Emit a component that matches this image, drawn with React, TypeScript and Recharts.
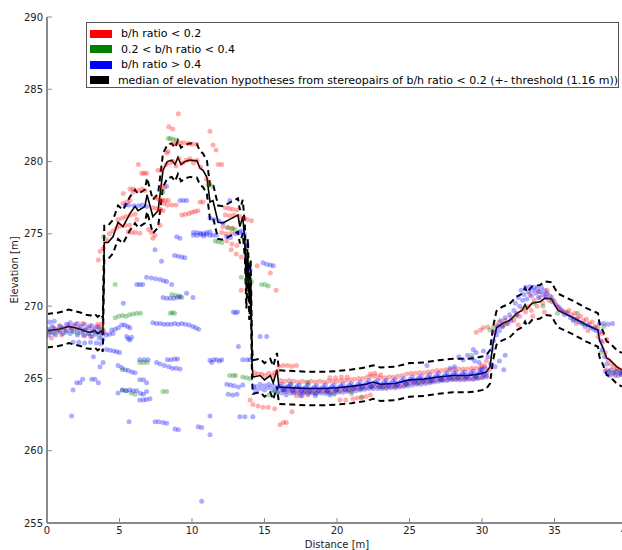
import {
  ComposedChart,
  Scatter,
  Line,
  XAxis,
  YAxis,
} from "recharts";

type Pt = [number, number];

// median of elevation hypotheses (b/h < 0.2)
const medianPts: Pt[] = [
  [0, 268.3], [0.4, 268.35], [0.8, 268.4], [1.2, 268.5], [1.5, 268.6], [1.9, 268.5],
  [2.3, 268.4], [2.7, 268.25], [3.0, 268.2], [3.3, 268.3], [3.5, 268.1], [3.75, 268.3],
  [3.85, 268.0], [3.95, 274.4], [4.2, 274.4], [4.55, 274.8], [4.9, 275.8], [5.24, 275.5],
  [5.72, 276.4], [6.07, 276.9], [6.28, 276.6], [6.75, 276.9], [6.9, 277.7], [7.3, 276.2],
  [7.66, 276.6], [8.0, 279.4], [8.3, 280.0], [8.6, 280.1], [8.83, 279.8], [9.03, 280.3],
  [9.24, 279.8], [9.52, 280.0], [9.86, 280.1], [10.34, 280.05], [10.55, 279.55],
  [10.76, 279.4], [11.03, 278.9], [11.24, 277.2], [11.45, 277.3], [11.8, 275.8],
  [12.14, 275.75], [12.6, 276.0], [13.17, 276.3], [13.3, 275.5], [13.5, 276.2],
  [13.65, 274.4], [13.75, 271.0], [13.85, 273.5], [13.95, 270.2], [14.05, 272.0],
  [14.14, 266.1], [14.2, 265.1], [14.7, 265.2], [15.0, 264.9], [15.4, 265.2], [15.6, 264.7],
  [15.86, 265.6], [16.0, 264.4], [17, 264.35], [18, 264.3], [19, 264.3], [20, 264.35],
  [21, 264.45], [22, 264.6], [22.5, 264.75], [23, 264.6], [24, 264.65], [25, 264.9],
  [26, 264.95], [27, 265.1], [28, 265.2], [29, 265.2], [29.5, 265.25], [30, 265.35],
  [30.3, 265.45], [30.55, 265.8], [30.76, 267.4], [31.0, 268.5], [31.4, 268.8],
  [31.9, 269.0], [32.4, 269.5], [32.76, 269.7], [32.97, 270.1], [33.1, 269.8],
  [33.45, 270.2], [34.0, 270.3], [34.35, 270.55], [34.8, 270.5], [35.0, 270.1],
  [35.25, 269.7], [36.3, 269.2], [37.2, 268.7], [38.0, 268.35], [38.1, 267.65],
  [38.35, 267.1], [38.6, 266.4], [38.8, 266.3], [39.3, 265.8], [39.65, 265.6],
];

const THRESHOLD = 1.16;

const redPts: Pt[] = [
  [0.2, 268.2], [0.45, 268.5], [0.7, 268.3], [0.95, 268.6], [1.2, 268.4], [1.45, 268.7],
  [1.7, 268.45], [1.95, 268.75], [2.2, 268.5], [2.45, 268.8], [2.7, 268.4], [2.95, 268.65],
  [3.2, 268.3], [3.45, 268.6], [3.7, 268.4], [3.8, 268.8], [3.5, 268.75], [3.0, 267.9],
  [2.5, 268.0], [1.0, 268.0], [0.3, 267.8], [3.95, 268.2],
  [3.66, 273.8], [3.54, 273.2], [3.9, 274.0], [4.1, 274.6], [4.3, 275.0], [4.55, 275.2],
  [4.8, 275.4], [5.05, 275.55], [5.4, 275.6], [5.7, 275.6],
  [4.9, 276.0], [5.2, 276.1], [5.45, 276.2], [5.75, 276.3], [6.07, 276.35],
  [5.24, 277.1], [5.5, 277.2], [5.72, 277.3], [5.26, 277.8], [5.72, 278.1], [5.95, 278.1],
  [5.94, 277.9], [6.3, 278.0], [6.55, 278.1], [6.76, 278.0],
  [5.6, 275.15], [5.85, 275.1], [6.1, 275.1], [6.4, 275.05], [6.2, 276.0],
  [7.45, 277.5], [7.7, 277.4], [7.95, 277.35], [8.15, 277.3], [8.37, 277.3],
  [7.3, 276.8], [7.55, 276.75], [7.8, 276.7], [7.0, 275.3], [7.2, 275.1], [7.45, 274.9],
  [7.3, 274.7], [7.66, 279.4], [7.9, 279.4], [8.25, 280.6], [8.35, 280.7], [7.9, 278.3],
  [8.1, 278.2], [6.3, 279.8], [6.53, 279.2], [6.7, 279.2], [6.87, 279.2],
  [9.06, 283.3], [8.4, 282.4], [8.67, 282.25], [11.24, 282.1], [11.45, 281.15], [11.66, 280.8],
  [8.7, 281.2], [8.95, 281.25], [9.2, 281.3], [9.45, 281.3], [9.75, 281.25], [10.0, 281.2],
  [10.3, 281.2], [8.2, 279.8], [8.45, 279.9], [8.7, 280.0], [8.9, 279.7], [9.1, 280.2],
  [9.35, 279.9], [9.6, 280.1], [9.85, 280.2], [10.1, 279.9], [10.35, 280.1], [10.6, 279.6],
  [7.8, 277.3], [8.05, 277.1], [8.3, 277.0], [8.6, 277.0], [8.9, 277.0], [7.8, 276.65],
  [8.0, 276.6], [9.3, 276.3], [9.55, 276.35], [9.8, 276.4], [10.0, 276.5], [10.2, 276.55],
  [10.4, 276.6], [10.55, 277.2], [10.76, 277.2], [7.8, 275.6], [11.8, 279.8], [12.05, 279.8],
  [11.0, 278.8], [11.2, 278.5],
  [12.3, 276.8], [12.55, 276.75], [12.8, 276.7], [13.1, 276.65], [12.3, 276.3], [12.6, 276.25],
  [12.9, 276.3], [13.3, 276.2], [13.6, 276.1], [13.8, 276.0], [14.1, 275.9], [12.14, 275.5],
  [12.45, 275.45], [12.8, 275.4], [12.05, 275.1], [12.35, 275.0], [12.7, 275.05],
  [12.4, 274.5], [12.75, 274.3], [13.1, 274.2], [12.7, 273.9], [13.05, 273.6], [13.4, 273.4],
  [13.4, 271.1], [14.5, 272.8], [15.4, 272.3], [15.8, 271.1],
  [14.3, 265.4], [14.55, 265.3], [14.8, 265.3], [15.05, 265.2], [15.3, 265.35], [15.55, 265.2],
  [15.7, 265.4], [15.9, 265.5], [14.2, 263.2], [14.55, 263.1], [14.9, 263.0], [15.25, 263.0],
  [15.7, 262.9], [16.07, 261.8], [16.3, 261.95], [16.5, 261.95], [16.9, 262.7], [14.0, 263.5],
  [16.0, 265.85], [16.3, 265.9], [16.6, 265.9], [16.9, 265.85], [17.2, 265.9],
  [16.1, 264.85], [16.25, 264.2], [16.4, 264.8], [16.55, 264.2], [16.7, 264.85], [16.85, 264.15],
  [17.0, 264.8], [17.15, 264.15], [17.3, 264.75], [17.45, 264.1], [17.6, 264.8], [17.75, 264.1],
  [17.9, 264.75], [18.05, 264.1], [18.2, 264.8], [18.35, 264.1], [18.5, 264.75], [18.65, 264.1],
  [18.8, 264.8], [18.95, 264.1], [19.1, 264.75], [19.25, 264.1], [19.4, 264.8], [19.55, 264.1],
  [19.7, 264.8], [19.85, 264.15], [20.0, 264.8], [20.15, 264.15], [20.3, 264.85], [20.45, 264.2],
  [20.6, 264.85], [20.75, 264.2], [20.9, 264.9], [21.05, 264.25], [21.2, 264.95], [21.35, 264.3],
  [21.5, 265.0], [21.65, 264.3], [21.8, 265.0], [21.95, 264.35], [22.1, 265.1], [22.25, 264.4],
  [22.4, 265.15], [22.55, 264.5], [22.7, 265.15], [22.85, 264.45], [23.0, 265.05], [23.15, 264.4],
  [23.3, 265.05], [23.45, 264.4], [23.6, 265.1], [23.75, 264.45], [23.9, 265.1], [24.05, 264.45],
  [24.2, 265.15], [24.35, 264.5], [24.5, 265.2], [24.65, 264.55], [24.8, 265.3], [24.95, 264.65],
  [25.1, 265.35], [25.25, 264.7], [25.4, 265.35], [25.55, 264.7], [25.7, 265.4], [25.85, 264.75],
  [26.0, 265.4], [26.15, 264.75], [26.3, 265.45], [26.45, 264.8], [26.6, 265.5], [26.75, 264.85],
  [26.9, 265.55], [27.05, 264.9], [27.2, 265.55], [27.35, 264.9], [27.5, 265.6], [27.65, 264.95],
  [27.8, 265.6], [27.95, 265.0], [28.1, 265.65], [28.25, 265.0], [28.4, 265.65], [28.55, 265.0],
  [28.7, 265.65], [28.85, 265.0], [29.0, 265.65], [29.15, 265.0], [29.3, 265.7], [29.45, 265.0],
  [29.6, 265.7], [29.75, 265.05], [29.9, 265.75], [30.05, 265.1], [30.2, 265.85], [30.35, 265.2],
  [19.5, 265.05], [19.9, 265.05], [20.3, 265.1], [20.7, 265.1], [22.3, 265.3], [22.6, 265.35],
  [23.0, 265.25], [21.1, 263.6], [21.4, 263.65], [21.7, 263.7], [22.0, 263.75], [22.3, 263.85],
  [20.2, 263.5], [20.6, 263.5], [17.2, 263.8], [17.6, 263.8], [18.0, 263.85],
  [29.6, 268.2], [29.9, 268.35], [30.1, 268.5], [30.4, 268.55], [30.0, 265.9], [30.3, 266.2],
  [30.5, 265.6], [30.8, 268.2], [31.0, 268.7], [31.2, 268.9], [31.4, 268.6], [31.6, 269.0],
  [31.8, 268.8], [32.0, 269.2], [32.2, 269.0], [32.4, 269.5], [32.6, 269.3], [32.8, 269.8],
  [33.0, 269.6], [33.2, 270.0], [33.4, 269.7], [33.6, 270.4], [33.8, 270.0], [34.0, 270.6],
  [34.2, 270.2], [34.4, 270.8], [34.6, 270.4], [34.8, 270.6], [35.0, 270.3], [35.2, 270.0],
  [35.4, 269.8], [35.6, 269.6], [33.3, 270.8], [33.9, 271.0], [34.5, 271.1], [32.5, 268.7],
  [33.5, 269.3], [34.3, 269.6],
  [35.8, 269.6], [36.0, 269.7], [36.2, 269.4], [36.4, 269.5], [36.6, 269.2], [36.8, 269.3],
  [37.0, 269.0], [37.2, 269.1], [37.4, 268.8], [37.6, 268.9], [37.8, 268.6], [38.0, 268.5],
  [36.5, 268.8], [37.3, 268.3], [38.0, 267.9], [38.3, 267.5], [38.5, 266.8], [38.7, 266.3],
  [38.9, 266.0], [39.1, 265.8], [39.3, 265.7], [39.5, 265.6], [39.7, 265.5], [38.6, 265.6],
  [39.0, 265.3], [39.4, 265.2], [38.3, 268.1], [38.6, 267.7],
];

const greenPts: Pt[] = [
  [0.15, 268.3], [0.5, 268.1], [0.9, 268.35], [1.3, 268.2], [1.7, 268.3], [2.1, 268.15],
  [2.5, 268.3], [2.9, 268.1], [3.3, 268.2], [3.7, 268.0], [3.85, 268.4], [3.9, 274.8],
  [4.7, 271.5], [4.7, 269.2], [4.95, 269.3], [5.2, 269.35], [5.45, 269.3], [5.7, 269.4],
  [5.95, 269.45], [6.2, 269.5], [6.45, 269.5], [5.2, 265.6], [6.4, 266.1], [6.65, 266.1],
  [6.9, 266.1], [5.2, 264.2], [5.45, 264.15], [5.8, 264.0], [6.07, 263.9], [8.0, 264.1],
  [8.25, 264.1], [8.6, 270.8], [8.85, 270.75], [9.1, 270.7], [9.3, 270.6], [8.5, 269.5],
  [8.65, 269.55], [8.8, 269.5], [8.5, 281.6], [8.7, 281.55], [8.9, 281.5], [8.37, 281.6],
  [8.0, 277.9], [11.1, 278.4], [11.36, 278.3], [12.5, 275.4], [12.75, 275.35], [12.97, 275.3],
  [11.6, 274.5], [11.8, 274.45], [12.05, 274.4], [13.4, 272.0], [13.75, 271.8], [14.1, 271.7],
  [14.8, 271.5], [15.05, 271.5], [15.26, 271.4], [12.6, 265.2], [12.85, 265.2], [13.0, 265.2],
  [13.5, 265.1], [13.75, 265.05], [14.0, 265.0], [15.7, 264.1], [15.9, 264.0], [15.3, 263.85],
  [16.3, 264.2], [17.0, 264.0], [17.8, 264.1], [18.5, 264.0], [19.3, 264.1], [20.0, 264.2],
  [20.8, 264.2], [21.6, 264.3], [22.4, 264.4], [23.2, 264.4], [24.0, 264.5], [24.8, 264.6],
  [25.6, 264.7], [26.4, 264.8], [27.2, 264.9], [28.0, 265.0], [28.8, 265.1], [29.6, 265.1],
  [16.8, 264.6], [18.0, 264.7], [19.8, 263.9], [21.0, 263.95], [21.7, 263.7],
  [29.3, 266.6], [30.55, 268.35], [30.8, 268.5], [31.5, 268.7], [32.3, 269.3], [33.0, 269.9],
  [33.6, 270.2], [34.2, 270.0], [34.8, 270.3], [35.6, 269.6], [36.3, 269.1], [37.0, 268.8],
  [37.8, 268.5], [38.4, 268.6], [38.2, 266.8], [38.8, 265.5], [39.2, 265.5], [39.6, 265.4],
  [36.6, 269.5], [35.2, 269.5],
];

const bluePts: Pt[] = [
  [0.1, 268.0], [0.1, 268.4], [0.35, 268.2], [0.35, 268.6], [0.6, 268.0], [0.6, 268.4],
  [0.85, 268.25], [0.85, 268.65], [1.1, 268.1], [1.1, 268.5], [1.35, 268.3], [1.35, 268.75],
  [1.6, 268.1], [1.6, 268.5], [1.6, 268.85], [1.85, 268.25], [1.85, 268.65], [2.1, 268.0],
  [2.1, 268.4], [2.1, 268.8], [2.35, 268.2], [2.35, 268.6], [2.6, 267.95], [2.6, 268.35],
  [2.6, 268.75], [2.85, 268.1], [2.85, 268.5], [3.1, 267.9], [3.1, 268.3], [3.1, 268.65],
  [3.35, 268.05], [3.35, 268.45], [3.6, 267.8], [3.6, 268.2], [3.6, 268.55], [3.85, 267.7],
  [3.85, 268.1], [0.2, 268.9], [0.5, 268.95],
  [1.8, 267.5], [2.2, 267.5], [2.6, 267.45], [3.0, 267.5], [3.4, 267.45], [3.7, 267.4],
  [3.2, 266.5], [3.65, 265.8], [3.87, 266.1], [1.8, 264.2], [2.05, 264.7], [2.28, 264.7],
  [2.46, 264.95], [3.08, 264.95], [3.31, 264.95], [3.54, 264.7], [1.7, 262.4],
  [4.1, 268.0], [4.3, 268.05], [4.55, 268.1], [4.46, 268.35], [4.7, 268.4], [4.92, 268.5],
  [5.15, 268.7], [5.35, 268.7], [5.55, 268.6], [5.72, 268.5], [5.26, 270.2],
  [4.1, 267.0], [4.35, 266.95], [4.6, 266.9], [4.8, 266.85], [5.0, 266.8],
  [5.5, 267.9], [5.6, 267.75], [5.72, 267.65], [5.84, 267.85],
  [4.9, 265.9], [5.15, 265.75], [5.4, 265.6], [5.6, 265.55], [5.85, 265.45], [6.07, 265.4],
  [6.4, 266.3], [6.7, 266.3], [6.97, 266.3], [7.56, 266.1], [7.8, 266.0], [8.1, 265.9],
  [8.4, 265.8], [8.65, 265.7], [8.9, 265.7], [9.17, 265.65], [8.3, 266.3], [8.55, 266.3],
  [8.8, 266.35], [9.0, 266.35], [6.4, 264.9], [6.65, 264.9], [6.87, 264.7],
  [4.9, 264.0], [5.2, 264.2], [5.45, 264.15], [5.7, 264.2], [5.95, 264.15], [6.2, 264.15],
  [6.45, 263.95], [6.65, 263.9], [6.87, 264.1], [6.4, 263.5], [6.65, 263.5], [6.85, 263.55],
  [7.1, 263.6], [5.66, 262.0], [7.45, 262.0], [7.7, 262.0], [8.0, 261.95], [8.25, 261.9],
  [8.83, 261.5], [9.06, 261.45], [10.43, 261.65], [10.67, 261.6], [10.67, 256.5], [11.24, 262.4],
  [6.2, 271.5], [6.4, 271.5], [6.6, 271.5], [6.87, 272.0], [7.2, 271.95], [7.5, 271.9],
  [7.8, 271.85], [8.05, 271.75], [8.25, 271.7], [8.6, 271.5],
  [7.3, 268.85], [7.55, 268.8], [7.8, 268.8], [8.05, 268.75], [8.3, 268.75], [8.55, 268.75],
  [8.8, 268.8], [9.05, 268.75], [9.3, 268.8], [9.55, 268.75], [9.8, 268.7], [10.05, 268.6],
  [10.25, 268.5], [10.45, 268.4],
  [8.0, 270.6], [8.25, 270.55], [8.5, 270.55], [8.75, 270.55], [9.0, 270.6], [9.2, 270.65],
  [9.63, 270.9], [10.07, 270.6],
  [12.85, 269.6], [13.0, 269.55], [13.15, 269.6], [13.2, 267.2], [13.5, 266.3], [13.8, 266.3],
  [14.0, 266.3], [12.4, 264.6], [12.65, 264.55], [12.9, 264.5], [13.2, 264.4], [13.5, 264.55],
  [12.5, 263.9], [12.8, 263.85], [13.1, 263.9], [13.3, 262.35], [13.65, 262.35], [14.2, 262.35],
  [11.24, 266.25], [11.5, 266.3], [11.7, 266.3], [11.9, 266.2], [11.36, 266.1], [12.05, 266.3],
  [11.24, 261.1],
  [9.17, 277.3], [9.4, 277.3], [9.63, 277.3], [8.94, 274.8], [9.17, 274.7],
  [10.1, 275.1], [10.35, 275.1], [10.6, 275.05], [10.8, 275.0], [11.0, 275.1], [11.24, 275.15],
  [10.1, 274.9], [10.35, 274.9], [10.6, 274.95], [10.8, 274.85], [11.0, 274.95], [11.24, 274.9],
  [11.45, 274.9], [11.7, 274.9], [8.8, 273.5], [9.05, 273.45], [9.3, 273.4], [9.5, 273.35],
  [12.6, 277.3], [11.24, 276.1], [11.5, 276.0], [11.85, 275.9], [12.14, 275.75],
  [12.4, 274.8], [12.65, 274.75], [13.0, 275.0], [13.3, 275.1], [14.9, 273.0], [15.15, 272.9],
  [15.4, 272.85], [15.6, 272.8], [14.7, 267.9], [15.15, 267.9],
  [5.4, 277.0], [5.65, 277.0], [6.0, 276.95], [6.3, 276.95], [6.55, 277.0], [6.87, 276.9],
  [7.45, 273.9], [7.9, 273.1], [8.25, 278.3], [13.4, 275.2], [13.6, 275.0], [13.8, 274.2],
  [14.0, 272.5],
  [14.25, 264.4], [14.4, 264.15], [14.4, 264.45], [14.7, 264.3], [14.7, 264.6], [15.0, 264.2],
  [15.0, 264.5], [15.3, 264.35], [15.3, 264.6], [15.6, 264.2], [15.6, 264.5], [15.9, 264.1],
  [15.9, 264.4], [16.2, 264.0], [16.2, 264.3], [16.2, 264.6], [16.5, 264.1], [16.5, 264.4],
  [16.8, 264.0], [16.8, 264.3], [16.8, 264.6], [17.1, 264.05], [17.1, 264.35], [17.4, 264.0],
  [17.4, 264.3], [17.4, 264.55], [17.7, 264.0], [17.7, 264.3], [18.0, 263.95], [18.0, 264.25],
  [18.0, 264.55], [18.3, 264.0], [18.3, 264.3], [18.6, 263.95], [18.6, 264.25], [18.6, 264.5],
  [18.9, 264.0], [18.9, 264.3], [19.2, 263.95], [19.2, 264.25], [19.2, 264.55], [19.5, 264.0],
  [19.5, 264.3], [19.8, 264.0], [19.8, 264.3], [19.8, 264.55], [20.1, 264.05], [20.1, 264.35],
  [20.4, 264.05], [20.4, 264.35], [20.4, 264.6], [20.7, 264.1], [20.7, 264.4], [21.0, 264.1],
  [21.0, 264.4], [21.0, 264.65], [21.3, 264.15], [21.3, 264.45], [21.6, 264.2], [21.6, 264.5],
  [21.6, 264.75], [21.9, 264.25], [21.9, 264.55], [22.2, 264.3], [22.2, 264.6], [22.2, 264.85],
  [22.5, 264.3], [22.5, 264.6], [22.8, 264.3], [22.8, 264.6], [22.8, 264.85], [23.1, 264.3],
  [23.1, 264.6], [23.4, 264.3], [23.4, 264.6], [23.4, 264.85], [23.7, 264.35], [23.7, 264.65],
  [24.0, 264.35], [24.0, 264.65], [24.0, 264.9], [24.3, 264.4], [24.3, 264.7], [24.6, 264.45],
  [24.6, 264.75], [24.6, 265.0], [24.9, 264.5], [24.9, 264.8], [25.2, 264.55], [25.2, 264.85],
  [25.2, 265.1], [25.5, 264.6], [25.5, 264.9], [25.8, 264.6], [25.8, 264.9], [25.8, 265.15],
  [26.1, 264.65], [26.1, 264.95], [26.4, 264.7], [26.4, 265.0], [26.4, 265.25], [26.7, 264.75],
  [26.7, 265.05], [27.0, 264.8], [27.0, 265.1], [27.0, 265.35], [27.3, 264.85], [27.3, 265.1],
  [27.6, 264.85], [27.6, 265.15], [27.6, 265.4], [27.9, 264.9], [27.9, 265.2], [28.2, 264.9],
  [28.2, 265.2], [28.2, 265.45], [28.5, 264.9], [28.5, 265.2], [28.8, 264.9], [28.8, 265.2],
  [28.8, 265.45], [29.1, 264.95], [29.1, 265.25], [29.4, 264.95], [29.4, 265.25], [29.4, 265.5],
  [29.7, 265.0], [29.7, 265.3], [30.0, 265.05], [30.0, 265.35], [30.0, 265.6], [30.3, 265.1],
  [30.3, 265.4],
  [16.05, 264.45], [16.35, 264.2], [16.65, 264.45], [16.95, 264.2], [17.25, 264.45],
  [17.55, 264.15], [17.85, 264.4], [18.15, 264.1], [18.45, 264.4], [18.75, 264.15],
  [19.05, 264.4], [19.35, 264.15], [19.65, 264.45], [19.95, 264.2], [20.25, 264.5],
  [20.55, 264.25], [20.85, 264.55], [21.15, 264.3], [21.45, 264.6], [21.75, 264.4],
  [22.05, 264.7], [22.35, 264.45], [22.65, 264.75], [22.95, 264.45], [23.25, 264.75],
  [23.55, 264.5], [23.85, 264.8], [24.15, 264.55], [24.45, 264.85], [24.75, 264.65],
  [25.05, 264.95], [25.35, 264.75], [25.65, 265.05], [25.95, 264.8], [26.25, 265.1],
  [26.55, 264.85], [26.85, 265.2], [27.15, 264.95], [27.45, 265.25], [27.75, 265.05],
  [28.05, 265.35], [28.35, 265.05], [28.65, 265.35], [28.95, 265.1], [29.25, 265.4],
  [29.55, 265.15], [29.85, 265.45], [30.15, 265.25],
  [16.5, 263.85], [17.5, 263.8], [18.5, 263.8], [19.5, 263.85],
  [26.2, 265.9], [27.8, 265.7], [28.1, 265.8], [28.4, 266.5], [28.7, 266.3], [29.0, 266.6],
  [29.3, 266.4], [29.5, 266.2], [29.4, 267.0], [29.6, 266.8], [29.8, 266.1], [30.1, 266.9],
  [30.4, 266.5], [30.6, 266.0], [30.9, 265.8], [31.2, 266.2], [31.5, 265.6], [31.6, 266.6],
  [30.2, 265.7], [29.9, 265.6],
  [30.7, 267.0], [30.8, 267.6], [30.9, 268.2], [31.0, 268.0], [31.1, 268.6], [31.2, 268.3],
  [31.3, 269.0], [31.4, 268.6], [31.6, 269.2], [31.7, 268.8], [31.9, 269.4], [32.0, 269.0],
  [32.2, 269.7], [32.3, 270.2], [32.4, 269.4], [32.5, 270.6], [32.6, 270.0], [32.7, 271.1],
  [32.8, 270.4], [32.9, 270.8], [33.0, 271.3], [33.1, 270.5], [33.2, 271.0], [33.3, 271.35],
  [33.4, 270.7], [33.5, 271.1], [33.6, 271.3], [33.7, 270.9], [33.8, 271.2], [33.9, 270.6],
  [34.0, 271.0], [34.1, 271.3], [34.2, 270.8], [34.3, 271.1], [34.4, 270.6], [34.5, 270.9],
  [34.7, 270.7], [34.9, 270.4], [35.1, 270.1], [35.3, 269.9], [35.5, 269.7],
  [35.7, 269.4], [35.9, 269.5], [36.1, 269.2], [36.3, 269.0], [36.5, 269.1], [36.7, 268.9],
  [36.9, 268.8], [37.1, 268.6], [37.3, 268.7], [37.5, 268.5], [37.7, 268.4], [37.9, 268.3],
  [38.1, 268.2], [38.1, 268.8], [38.4, 268.8], [38.7, 268.75], [39.0, 268.8],
  [38.2, 267.6], [38.3, 267.0], [38.45, 266.5], [38.6, 266.0],
  [38.5, 265.5], [38.7, 265.4], [38.9, 265.6], [39.1, 265.4], [39.3, 265.5], [39.5, 265.35],
  [39.7, 265.5], [38.8, 265.2], [39.2, 265.2], [39.6, 265.25],
];

const xTicks = [0, 5, 10, 15, 20, 25, 30, 35, 40];
const yTicks = [255, 260, 265, 270, 275, 280, 285, 290];

const legendItems = [
  { label: "b/h ratio < 0.2", color: "#ff0000" },
  { label: "0.2 < b/h ratio < 0.4", color: "#008000" },
  { label: "b/h ratio > 0.4", color: "#0000ff" },
  {
    label:
      "median of elevation hypotheses from stereopairs of b/h ratio < 0.2 (+- threshold (1.16 m))",
    color: "#000000",
  },
];

const toRows = (pts: Pt[]) => pts.map(([x, y]) => ({ x, y }));

const median = toRows(medianPts);
const upper = medianPts.map(([x, y]) => ({ x, y: y + THRESHOLD }));
const lower = medianPts.map(([x, y]) => ({ x, y: y - THRESHOLD }));

const FONT = "DejaVu Sans, sans-serif";
const FRAME = "#8a8a8a";

const dot = (color: string) => (p: any) =>
  <circle cx={p.cx} cy={p.cy} r={2.5} fill={color} fillOpacity={0.32} />;

const YTitle = (props: any) => {
  const vb = props.viewBox;
  const cx = vb.x + 14;
  const cy = vb.y + vb.height / 2;
  return (
    <text
      x={cx}
      y={cy}
      transform={`rotate(-90 ${cx} ${cy})`}
      textAnchor="middle"
      dominantBaseline="central"
      fontSize={10}
      fontFamily={FONT}
      fill="#222"
    >
      Elevation [m]
    </text>
  );
};

const App = () => {
  const tickStyle = { fill: "#222", fontSize: 10, fontFamily: FONT };
  return (
    <div
      style={{
        position: "absolute",
        left: 0,
        top: 0,
        width: 622,
        height: 550,
        overflow: "hidden",
        background: "#fff",
      }}
    >
      <ComposedChart
        width={640}
        height={550}
        margin={{ top: 17, right: 13, bottom: 0, left: 0 }}
      >
        <XAxis
          dataKey="x"
          type="number"
          domain={[0, 40]}
          ticks={xTicks}
          allowDataOverflow
          height={27}
          tickSize={-5}
          tickMargin={9}
          tick={tickStyle}
          axisLine={{ stroke: FRAME, strokeWidth: 2 }}
          tickLine={{ stroke: FRAME }}
          label={{
            value: "Distance [m]",
            position: "insideBottom",
            offset: 2,
            style: { fontSize: 10, fontFamily: FONT, fill: "#222" },
          }}
        />
        <XAxis
          xAxisId="top"
          orientation="top"
          dataKey="x"
          type="number"
          domain={[0, 40]}
          ticks={xTicks}
          allowDataOverflow
          height={0}
          tickSize={-5}
          tick={false}
          axisLine={{ stroke: FRAME, strokeWidth: 2 }}
          tickLine={{ stroke: FRAME }}
        />
        <YAxis
          dataKey="y"
          type="number"
          domain={[255, 290]}
          ticks={yTicks}
          allowDataOverflow
          width={47}
          tickSize={-5}
          tickMargin={9}
          tick={tickStyle}
          axisLine={{ stroke: FRAME, strokeWidth: 2 }}
          tickLine={{ stroke: FRAME }}
          label={<YTitle />}
        />
        <Scatter data={toRows(redPts)} dataKey="y" fill="#ff0000" shape={dot("#ff0000")} isAnimationActive={false} />
        <Scatter data={toRows(greenPts)} dataKey="y" fill="#008000" shape={dot("#008000")} isAnimationActive={false} />
        <Scatter data={toRows(bluePts)} dataKey="y" fill="#0000ff" shape={dot("#0000ff")} isAnimationActive={false} />
        <Line data={upper} dataKey="y" stroke="#000" strokeWidth={2} strokeDasharray="6 4" dot={false} isAnimationActive={false} />
        <Line data={lower} dataKey="y" stroke="#000" strokeWidth={2} strokeDasharray="6 4" dot={false} isAnimationActive={false} />
        <Line data={median} dataKey="y" stroke="#000" strokeWidth={1.6} dot={false} isAnimationActive={false} />
      </ComposedChart>

      <div
        style={{
          position: "absolute",
          left: 86,
          top: 22,
          width: 533,
          height: 66,
          border: "1.5px solid #555",
          background: "#fff",
          fontFamily: FONT,
          fontSize: 11,
          color: "#000",
          boxSizing: "border-box",
          padding: "3px 0 0 3px",
        }}
      >
        {legendItems.map((it) => (
          <div key={it.label} style={{ display: "flex", alignItems: "center", height: 15.5 }}>
            <div style={{ width: 22, height: 8, background: it.color, marginRight: 9 }} />
            <span style={{ whiteSpace: "nowrap" }}>{it.label}</span>
          </div>
        ))}
      </div>
    </div>
  );
};

export default App;
